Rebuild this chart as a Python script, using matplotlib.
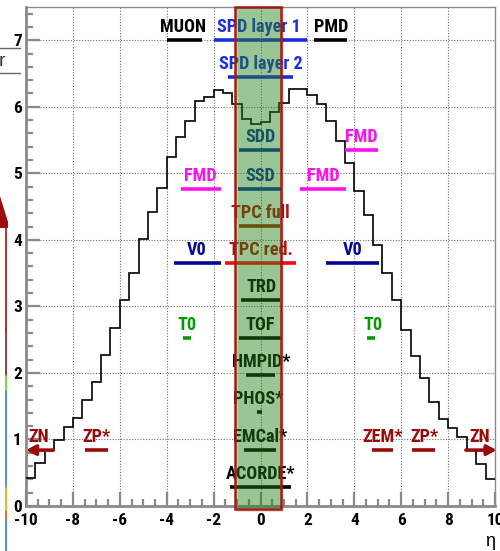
import os
import numpy as np
import matplotlib
matplotlib.use("Agg")
import matplotlib.pyplot as plt
import matplotlib.font_manager as fm
from matplotlib.patches import Rectangle, Polygon
from matplotlib.lines import Line2D
from matplotlib.ticker import MultipleLocator

plt.rcParams['font.family'] = ['Liberation Sans', 'DejaVu Sans']

# ---------------- data ----------------
bin_edges = np.round(np.arange(-10.0, 10.0001, 0.4), 2)
dndeta = [0.42, 0.65, 0.84, 0.99, 1.19, 1.33, 1.59, 1.86, 2.27, 2.67,
          3.10, 3.50, 4.02, 4.42, 4.78, 5.25, 5.55, 5.79, 6.08, 6.15,
          6.25, 6.20, 6.04, 5.82, 5.74, 5.77, 5.92, 6.05, 6.27, 6.27,
          6.18, 6.04, 5.79, 5.49, 5.15, 4.74, 4.37, 3.92, 3.50, 3.10,
          2.65, 2.25, 1.92, 1.57, 1.31, 1.17, 1.03, 0.84, 0.63, 0.41]

det_names = ["MUON", "SPD layer 1", "PMD", "SPD layer 2", "SDD", "FMD", "SSD",
             "FMD", "FMD", "TPC full", "V0", "TPC red.", "V0", "TRD", "T0",
             "TOF", "T0", "HMPID*", "PHOS*", "ZP*", "EMCal*", "ZEM*", "ZP*",
             "ACORDE*"]
det_eta_min = [-4.0, -2.0, 2.3, -1.4, -0.9, 3.6, -0.95, -3.4, 1.7, -0.9, -3.7,
               -1.5, 2.8, -0.85, -3.3, -0.9, 4.55, -0.6, -0.14, -7.5, -0.7,
               4.77, 6.47, -1.3]
det_eta_max = [-2.5, 2.0, 3.7, 1.4, 0.85, 5.0, 0.92, -1.7, 3.65, 0.85, -1.7,
               1.5, 5.05, 0.84, -2.95, 0.86, 4.9, 0.6, 0.08, -6.5, 0.68,
               5.66, 7.45, 1.3]
det_level = [7.0, 7.0, 7.0, 6.45, 5.35, 5.35, 4.77, 4.77, 4.77, 4.21, 3.65,
             3.65, 3.65, 3.09, 2.53, 2.53, 2.53, 1.97, 1.41, 0.84, 0.84,
             0.84, 0.84, 0.29]
det_label_x = [-3.29, -0.05, 3.0, 0.0, 0.0, 4.32, 0.0, -2.58, 2.68, 0.0, -2.72,
               0.0, 3.94, 0.05, -3.13, 0.0, 4.78, 0.02, -0.1, -7.0, 0.0,
               5.22, 6.97, 0.0]
zn_eta_min = [-10.0, 8.76]
zn_eta_max = [-8.84, 10.07]
zn_level = 0.84
zn_label_x = [-9.45, 9.35]

# colours per detector (style)
c_black = "#000000"
c_spd = "#1a2ee0"
c_its = "#0b2fa8"
c_fmd = "#ff10f0"
c_tpc_txt = "#b3120c"
c_tpc_line = "#a32a00"
c_tpc_red = "#ff0a0a"
c_v0 = "#02059a"
c_t0 = "#079a07"
c_zdc = "#9a0a0a"
det_line_col = [c_black, c_spd, c_black, c_spd, c_its, c_fmd, c_its, c_fmd, c_fmd,
                c_tpc_line, c_v0, c_tpc_red, c_v0, c_black, c_t0, c_black, c_t0,
                c_black, c_black, c_zdc, c_black, c_zdc, c_zdc, c_black]
det_text_col = [c_black, c_spd, c_black, c_spd, c_its, c_fmd, c_its, c_fmd, c_fmd,
                c_tpc_txt, c_v0, c_tpc_txt, c_v0, c_black, c_t0, c_black, c_t0,
                c_black, c_black, c_zdc, c_black, c_zdc, c_zdc, c_black]

band_eta = (-1.1, 0.88)


# ---------------- font selection (prefer a narrow bold face) ----------------
def find_font(patterns):
    files = {os.path.basename(f.fname).lower(): f.fname for f in fm.fontManager.ttflist}
    for p in patterns:
        for base, full in files.items():
            if p in base:
                return full
    return None


narrow_file = find_font(["liberationsansnarrow-bold.", "arialnarrowbold", "arialnb",
                         "robotocondensed-bold.", "notosans-condensedbold.",
                         "opensans-condensedbold", "opensans-condbold",
                         "dejavusanscondensed-bold."])
if narrow_file:
    fp_bold = fm.FontProperties(fname=narrow_file)
else:
    fp_bold = fm.FontProperties(family=['Liberation Sans', 'DejaVu Sans'], weight='bold')

# ---------------- figure ----------------
fig = plt.figure(figsize=(5.0, 5.51), dpi=100)
renderer = fig.canvas.get_renderer()


def fit_size(sample, target_px):
    t = fig.text(0, 0, sample, fontproperties=fp_bold, fontsize=10)
    w = t.get_window_extent(renderer).width
    t.remove()
    return 10.0 * target_px / max(w, 1.0)


lab_size = min(fit_size("SPD layer 1", 84), 15)
tick_size = min(fit_size("-10", 24), 17)

ax = fig.add_axes([26 / 500, 45 / 551, 469 / 500, 499 / 551])
ax.set_xlim(-10, 10)
ax.set_ylim(0, 7.5)

grey = "#8a8a8a"
for s in ax.spines.values():
    s.set_color(grey)
    s.set_linewidth(1.0)
ax.spines['left'].set_linewidth(2.0)
ax.spines['bottom'].set_linewidth(2.0)

ax.xaxis.set_major_locator(MultipleLocator(2))
ax.xaxis.set_minor_locator(MultipleLocator(0.5))
ax.yaxis.set_major_locator(MultipleLocator(1))
ax.yaxis.set_minor_locator(MultipleLocator(0.2))
ax.tick_params(which='both', direction='in', color=grey, width=1.6)
ax.tick_params(which='major', length=10)
ax.tick_params(which='minor', length=5)
ax.tick_params(axis='y', pad=3)
ax.tick_params(axis='x', pad=5)
ax.set_yticks(range(0, 8))
ax.set_yticklabels([str(v) for v in range(0, 8)])
ax.set_xticks(range(-10, 11, 2))
ax.set_xticklabels([str(v) for v in range(-10, 11, 2)])
for lab in ax.get_xticklabels() + ax.get_yticklabels():
    lab.set_fontproperties(fp_bold)
    lab.set_fontsize(tick_size)

ax.grid(True, which='major', linestyle=(0, (1, 1.5)), color="#707070", linewidth=0.8)
ax.set_axisbelow(True)

# histogram
ax.stairs(dndeta, bin_edges, baseline=None, color='black', linewidth=1.2, zorder=3)

# detector lines + labels
for name, e0, e1, lv, lx, lc, tc in zip(det_names, det_eta_min, det_eta_max, det_level,
                                         det_label_x, det_line_col, det_text_col):
    ax.plot([e0, e1], [lv, lv], color=lc, linewidth=2.6, solid_capstyle='butt', zorder=4)
    ax.text(lx, lv + 0.12, name, color=tc, fontproperties=fp_bold, fontsize=lab_size,
            ha='center', va='baseline', zorder=5)

# ZN arrows
for tip, tail in ((zn_eta_min[0], zn_eta_max[0]), (zn_eta_max[1], zn_eta_min[1])):
    ax.annotate('', xy=(tip, zn_level), xytext=(tail, zn_level),
                arrowprops=dict(arrowstyle='-|>,head_length=0.55,head_width=0.3', lw=2.6,
                                color=c_zdc, shrinkA=0, shrinkB=0),
                annotation_clip=False, zorder=5)
for lx in zn_label_x:
    ax.text(lx, zn_level + 0.12, "ZN", color=c_zdc, fontproperties=fp_bold,
            fontsize=lab_size, ha='center', va='baseline', zorder=5)

# central acceptance band
shadow = Rectangle((band_eta[0] + 0.12, -0.09), band_eta[1] - band_eta[0], 7.6,
                   facecolor='#000000', alpha=0.12, edgecolor='none', zorder=5.5,
                   clip_on=False)
ax.add_patch(shadow)
band = Rectangle((band_eta[0], -0.05), band_eta[1] - band_eta[0], 7.55,
                 facecolor='#2a9a18', alpha=0.38, edgecolor='none', zorder=6,
                 clip_on=False)
ax.add_patch(band)
band_edge = Rectangle((band_eta[0], -0.05), band_eta[1] - band_eta[0], 7.55,
                      facecolor='none', edgecolor='#a31c12', linewidth=1.8, zorder=6.5,
                      clip_on=False)
ax.add_patch(band_edge)

# x axis title
fig.text(490 / 500, 1 - 541 / 551, "η", fontsize=13, ha='center', va='center')

# left-edge remnants of the source picture
fig.text(-0.002, 1 - 62 / 551, "r", fontsize=14, ha='left', va='center', color='#333333')
fig.add_artist(Line2D([0, 20 / 500], [1 - 48 / 551, 1 - 48 / 551], color='#666666', lw=1.0))
fig.add_artist(Line2D([0, 20 / 500], [1 - 73 / 551, 1 - 73 / 551], color='#666666', lw=1.0))
fig.add_artist(Polygon([[0, 1 - 196 / 551], [8 / 500, 1 - 222 / 551], [8 / 500, 1 - 228 / 551],
                        [0, 1 - 228 / 551]], closed=True, facecolor='#a00c0c', edgecolor='none'))
segs = [(228, 330, '#b01010'), (330, 376, '#8a1a1a'), (376, 392, '#6ad620'),
        (392, 487, '#3a7ee0'), (487, 512, '#f0a800'), (512, 520, '#e05010'),
        (520, 551, '#3a7ee0')]
for y0, y1, col in segs:
    fig.add_artist(Line2D([6 / 500, 6 / 500], [1 - y0 / 551, 1 - y1 / 551], color=col, lw=1.2))

fig.savefig("out.png", dpi=100)
